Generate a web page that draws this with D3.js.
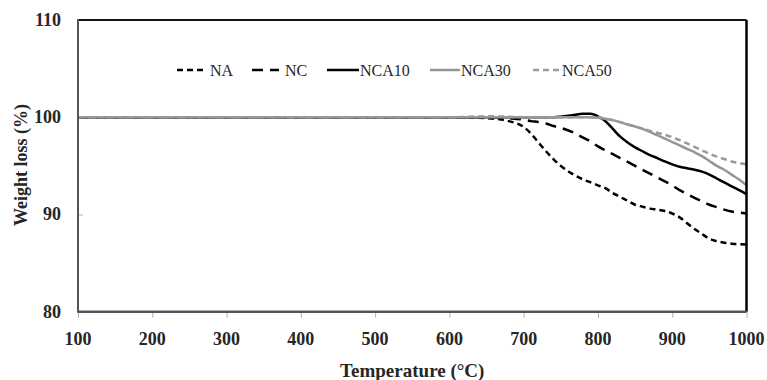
<!DOCTYPE html>
<html>
<head>
<meta charset="utf-8">
<script src="https://cdn.jsdelivr.net/npm/d3@7"></script>
<style>
  html, body { margin: 0; padding: 0; background: #fff; }
  svg { display: block; }
</style>
</head>
<body>
<svg id="chart" width="767" height="380"></svg>
<script>
// ---- data ----
const temperatures = [100, 600, 650, 680, 700, 710, 720, 730, 740, 750, 765, 780, 790, 800, 810, 820, 830, 840, 850, 860, 870, 880, 890, 900, 910, 920, 930, 940, 950, 960, 970, 980, 990, 1000];
const seriesNames = ["NA", "NC", "NCA10", "NCA30", "NCA50"];
const NA    = [100, 100, 99.9, 99.6, 99.0, 98.3, 97.4, 96.5, 95.7, 95.0, 94.2, 93.6, 93.3, 93.0, 92.7, 92.2, 91.8, 91.4, 91.0, 90.8, 90.6, 90.5, 90.35, 90.1, 89.7, 89.1, 88.5, 88.0, 87.5, 87.25, 87.1, 87.0, 86.95, 86.9];
const NC    = [100, 100, 100, 99.9, 99.75, 99.6, 99.5, 99.35, 99.1, 98.9, 98.5, 97.9, 97.5, 97.0, 96.6, 96.2, 95.8, 95.4, 95.0, 94.6, 94.2, 93.8, 93.4, 93.0, 92.5, 92.1, 91.7, 91.35, 91.0, 90.75, 90.5, 90.3, 90.2, 90.1];
const NCA10 = [100, 100, 100, 100, 100, 100, 100, 100, 100, 100.05, 100.2, 100.35, 100.35, 100.1, 99.6, 98.8, 98.0, 97.4, 96.9, 96.5, 96.1, 95.8, 95.45, 95.15, 94.9, 94.75, 94.6, 94.4, 94.1, 93.7, 93.3, 92.9, 92.5, 92.1];
const NCA30 = [100, 100, 100, 100, 100, 100, 100, 100, 100, 100, 100, 100, 100, 99.95, 99.85, 99.7, 99.5, 99.25, 99.05, 98.8, 98.5, 98.15, 97.8, 97.45, 97.1, 96.75, 96.4, 96.0, 95.5, 95.0, 94.6, 94.1, 93.6, 93.0];
const NCA50 = [100, 100, 100.1, 100.05, 100, 100, 100, 100, 100, 100, 100, 100, 100, 100, 99.85, 99.7, 99.5, 99.25, 99.05, 98.85, 98.6, 98.4, 98.2, 97.95, 97.65, 97.3, 96.95, 96.6, 96.25, 95.95, 95.7, 95.45, 95.3, 95.15];
const xTicks = [100, 200, 300, 400, 500, 600, 700, 800, 900, 1000];
const yTicks = [80, 90, 100, 110];
const xTitle = "Temperature (\u00B0C)";
const yTitle = "Weight loss (%)";

// ---- styles ----
const styles = {
  NA:    { color: "#000000", dash: "6,4",  width: 2.5 },
  NC:    { color: "#000000", dash: "11,7", width: 2.5 },
  NCA10: { color: "#000000", dash: null,   width: 2.5 },
  NCA30: { color: "#969696", dash: null,   width: 2.5 },
  NCA50: { color: "#9a9a9a", dash: "6,4",  width: 2.5 }
};
const valuesByName = { NA, NC, NCA10, NCA30, NCA50 };

const svg = d3.select("#chart");
const L = 78, R = 746.5, T = 20, B = 311.7;
const x = d3.scaleLinear().domain([100, 1000]).range([L, R]);
const y = d3.scaleLinear().domain([80, 110]).range([B, T]);

const serif = "'Liberation Serif', 'Times New Roman', serif";

// x ticks (outward)
svg.append("g")
  .attr("transform", `translate(0,${B})`)
  .call(d3.axisBottom(x).tickValues(xTicks).tickSize(6).tickFormat(""))
  .call(g => g.select(".domain").remove())
  .call(g => g.selectAll("line").attr("stroke", "#b0b0b0").attr("stroke-width", 1));

// y ticks (inside, small)
svg.append("g")
  .attr("transform", `translate(${L},0)`)
  .call(d3.axisRight(y).tickValues(yTicks).tickSize(5).tickFormat(""))
  .call(g => g.select(".domain").remove())
  .call(g => g.selectAll("line").attr("stroke", "#b0b0b0").attr("stroke-width", 1));

// tick labels
svg.append("g").selectAll("text").data(xTicks).join("text")
  .attr("x", d => x(d)).attr("y", 345)
  .attr("text-anchor", "middle")
  .attr("font-family", serif).attr("font-weight", "bold").attr("font-size", 18)
  .attr("fill", "#262626")
  .text(d => d);

svg.append("g").selectAll("text").data(yTicks).join("text")
  .attr("x", 61).attr("y", d => y(d) + 6)
  .attr("text-anchor", "end")
  .attr("font-family", serif).attr("font-weight", "bold").attr("font-size", 18)
  .attr("fill", "#262626")
  .text(d => d);

// axis titles
svg.append("text")
  .attr("x", (L + R) / 2).attr("y", 377)
  .attr("text-anchor", "middle")
  .attr("font-family", serif).attr("font-weight", "bold").attr("font-size", 19)
  .attr("fill", "#262626")
  .text(xTitle);

svg.append("text")
  .attr("transform", `translate(27,165) rotate(-90)`)
  .attr("text-anchor", "middle")
  .attr("font-family", serif).attr("font-weight", "bold").attr("font-size", 18)
  .attr("fill", "#262626")
  .text(yTitle);

// lines
const line = d3.line()
  .x((d, i) => x(temperatures[i]))
  .y(d => y(d))
  .curve(d3.curveMonotoneX);

const plot = svg.append("g");
seriesNames.forEach(name => {
  const s = styles[name];
  plot.append("path")
    .datum(valuesByName[name])
    .attr("fill", "none")
    .attr("stroke", s.color)
    .attr("stroke-width", s.width)
    .attr("stroke-dasharray", s.dash)
    .attr("d", line);
});

// frame: left/bottom axes dark gray, top/right black
svg.append("line").attr("x1", L).attr("x2", R).attr("y1", T).attr("y2", T)
  .attr("stroke", "#111").attr("stroke-width", 2);
svg.append("line").attr("x1", R).attr("x2", R).attr("y1", T).attr("y2", B)
  .attr("stroke", "#000").attr("stroke-width", 2.5);
svg.append("line").attr("x1", L).attr("x2", L).attr("y1", T - 1).attr("y2", B + 1)
  .attr("stroke", "#555").attr("stroke-width", 2);
svg.append("line").attr("x1", L).attr("x2", R).attr("y1", B).attr("y2", B)
  .attr("stroke", "#555").attr("stroke-width", 2.5);

// legend
const legendPos = [
  { lx1: 177, lx2: 204, tx: 210 },
  { lx1: 252, lx2: 279, tx: 285 },
  { lx1: 327, lx2: 359, tx: 360 },
  { lx1: 430, lx2: 460, tx: 461 },
  { lx1: 533, lx2: 561, tx: 562 }
];
const legendY = 70;
const lg = svg.append("g");
seriesNames.forEach((name, i) => {
  const s = styles[name], p = legendPos[i];
  lg.append("line")
    .attr("x1", p.lx1).attr("x2", p.lx2).attr("y1", legendY).attr("y2", legendY)
    .attr("stroke", s.color).attr("stroke-width", s.width)
    .attr("stroke-dasharray", s.dash);
  lg.append("text")
    .attr("x", p.tx).attr("y", legendY + 5.5)
    .attr("font-family", serif).attr("font-size", 16)
    .attr("fill", "#262626")
    .text(name);
});
</script>
</body>
</html>
